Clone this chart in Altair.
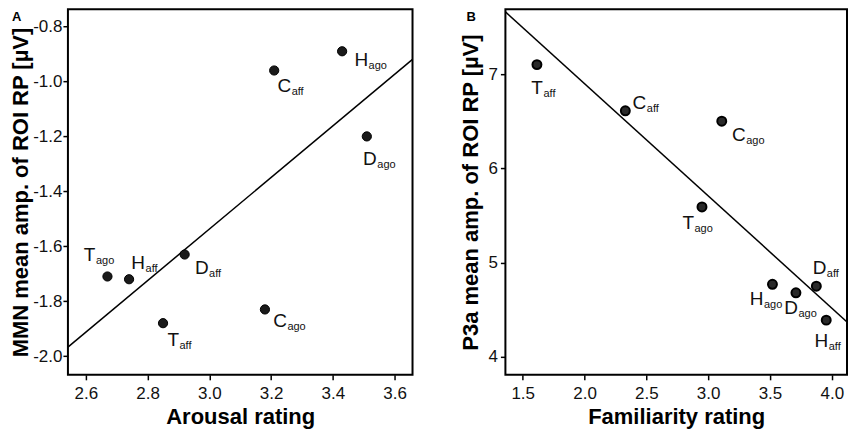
import altair as alt
import pandas as pd

FONT = "Liberation Sans"

# ---------------- Panel A data ----------------
A_letter = ["T", "H", "D", "T", "C", "C", "H", "D"]
A_sub = ["ago", "aff", "aff", "aff", "ago", "aff", "ago", "ago"]
A_arousal = [2.67, 2.74, 2.92, 2.85, 3.18, 3.21, 3.43, 3.51]
A_mmn = [-1.71, -1.72, -1.63, -1.88, -1.83, -0.96, -0.89, -1.20]
A_xticks = [2.6, 2.8, 3.0, 3.2, 3.4, 3.6]
A_yticks = [-2.0, -1.8, -1.6, -1.4, -1.2, -1.0, -0.8]

# ---------------- Panel B data ----------------
B_letter = ["T", "C", "C", "T", "H", "D", "D", "H"]
B_sub = ["aff", "aff", "ago", "ago", "ago", "ago", "aff", "aff"]
B_familiarity = [1.615, 2.33, 3.11, 2.95, 3.52, 3.71, 3.875, 3.955]
B_p3a = [7.10, 6.61, 6.50, 5.59, 4.77, 4.68, 4.75, 4.39]
B_xticks = [1.5, 2.0, 2.5, 3.0, 3.5, 4.0]
B_yticks = [4, 5, 6, 7]

# label placement (pixel offsets of the letter's right edge / baseline from the dot)
A_label_offsets = {
    "T_ago": (-12, -16), "H_aff": (16, -10), "D_aff": (24, 20), "T_aff": (16, 23),
    "C_ago": (22, 18), "C_aff": (17, 22), "H_ago": (26, 15), "D_ago": (10, 29),
}
B_label_offsets = {
    "T_aff": (6, 29), "C_aff": (21, -2), "C_ago": (24, 20), "T_ago": (-8, 22),
    "H_ago": (-9, 21), "D_ago": (2, 21), "D_aff": (10, -12), "H_aff": (2, 27),
}

MINUS_FIX = "replace(datum.label, '\u2212', '-')"


def panel(letters, subs, xs, ys, xfield, yfield, xdom, ydom, xticks, yticks,
          xfmt, yfmt, xtitle, ytitle, offsets, tag, tag_x, width, height,
          pt_size, pt_fill, pt_sw, ytitle_pad, ylabel_pad):
    df = pd.DataFrame({
        xfield: xs, yfield: ys, "letter": letters, "sub": subs,
        "name": [l + "_" + s for l, s in zip(letters, subs)],
    })
    X = alt.X(f"{xfield}:Q",
              scale=alt.Scale(domain=xdom, nice=False, zero=False),
              axis=alt.Axis(values=xticks, format=xfmt, title=xtitle,
                            labelExpr=MINUS_FIX, labelPadding=6, titlePadding=5))
    Y = alt.Y(f"{yfield}:Q",
              scale=alt.Scale(domain=ydom, nice=False, zero=False),
              axis=alt.Axis(values=yticks, format=yfmt, title=ytitle,
                            labelExpr=MINUS_FIX, labelPadding=ylabel_pad,
                            titlePadding=ytitle_pad))
    base = alt.Chart(df)
    line = base.transform_regression(xfield, yfield, extent=xdom).mark_line(
        color="black", strokeWidth=1.5, clip=True).encode(x=X, y=Y)
    pts = base.mark_point(filled=True, fill=pt_fill, stroke="black",
                          strokeWidth=pt_sw, size=pt_size, opacity=1,
                          shape="circle").encode(x=X, y=Y)
    layers = [line, pts]
    for name, (rx, by) in offsets.items():
        sel = base.transform_filter(alt.datum.name == name)
        layers.append(sel.mark_text(align="right", baseline="alphabetic",
                                    dx=rx, dy=by, fontSize=19, font=FONT,
                                    color="#111111").encode(x=X, y=Y, text="letter:N"))
        layers.append(sel.mark_text(align="left", baseline="alphabetic",
                                    dx=rx + 0.5, dy=by + 3, fontSize=11, font=FONT,
                                    color="#111111").encode(x=X, y=Y, text="sub:N"))
    tag_layer = alt.Chart(pd.DataFrame({"t": [tag]})).mark_text(
        align="left", baseline="top", fontSize=13, fontWeight="bold", font=FONT,
        color="black").encode(x=alt.value(tag_x), y=alt.value(2), text="t:N")
    layers.append(tag_layer)
    return alt.layer(*layers).properties(width=width, height=height)


chart_a = panel(A_letter, A_sub, A_arousal, A_mmn, "arousal", "mmn",
                [2.542, 3.658], [-2.068, -0.737], A_xticks, A_yticks,
                ".1f", ".1f", "Arousal rating", "MMN mean amp. of ROI RP [µV]",
                A_label_offsets, "A", -56, 345, 366, 85, "#1a1a1a", 1, 0, 1)

chart_b = panel(B_letter, B_sub, B_familiarity, B_p3a, "familiarity", "p3a",
                [1.36, 4.123], [3.81, 7.687], B_xticks, B_yticks,
                ".1f", "d", "Familiarity rating", "P3a mean amp. of ROI RP [µV]",
                B_label_offsets, "B", -39, 342, 366, 80, "#2a2a2a", 2, 5, 3)

chart = alt.hconcat(chart_a, chart_b, spacing=45).properties(
    padding=0
).configure_view(
    stroke="black", strokeWidth=2
).configure_axis(
    grid=False, domain=False, ticks=True, tickSize=5, tickWidth=1.5,
    tickColor="black", labelFont=FONT, labelFontSize=17, labelColor="#111111",
    titleFont=FONT, titleFontSize=22, titleFontWeight="bold", titleColor="black"
)

chart.save("out.html", embed_options={"renderer": "svg", "actions": False})
